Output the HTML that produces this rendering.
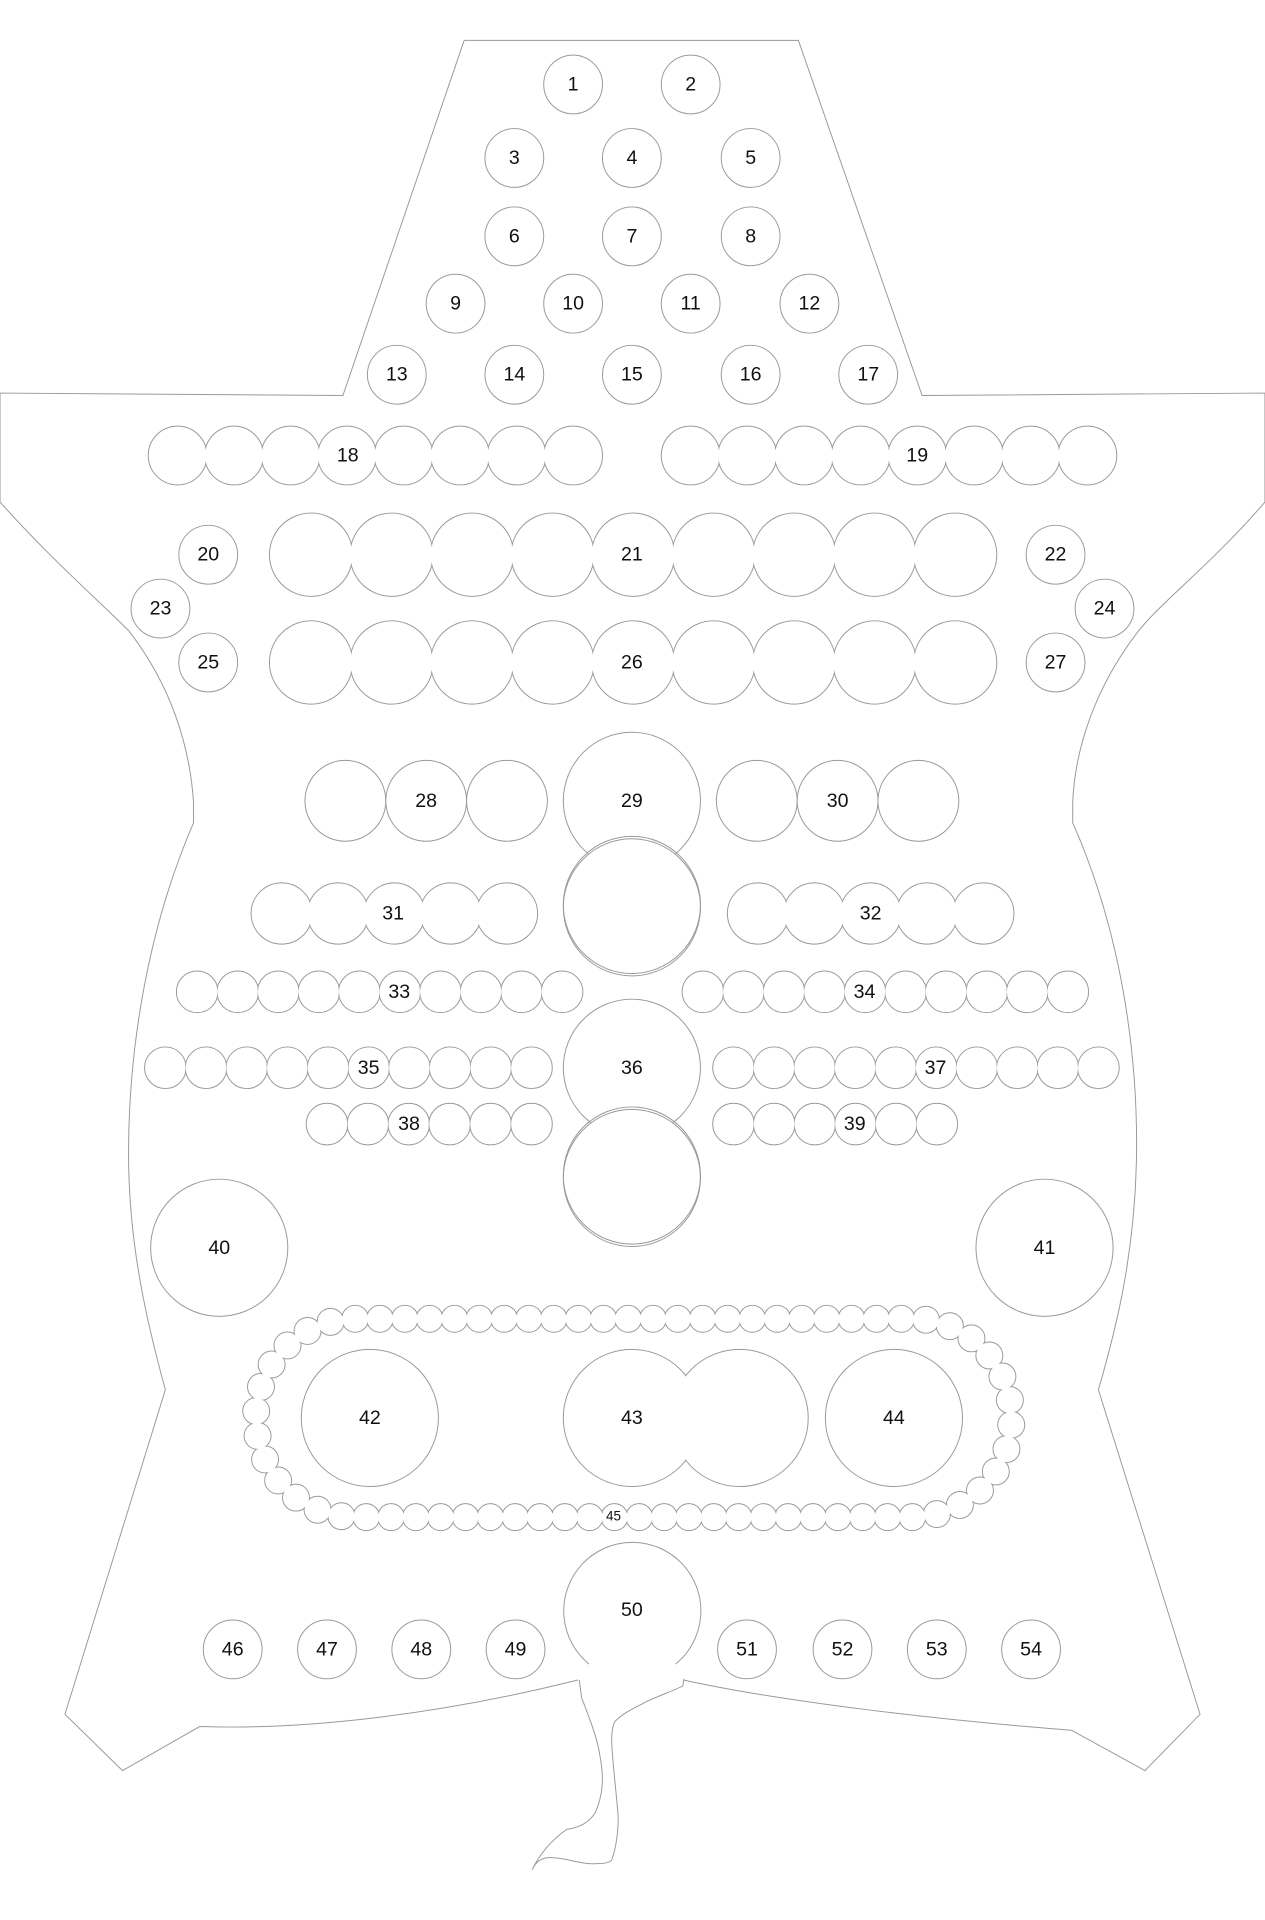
<!DOCTYPE html>
<html><head><meta charset="utf-8"><style>
html,body{margin:0;padding:0;background:#fff;}
svg{display:block}
text{font-family:"Liberation Sans",sans-serif;font-size:16px;fill:#111;text-anchor:middle;dominant-baseline:central}
</style></head><body>
<svg id="s" width="1265" height="1920" viewBox="0 0 1033 1568" xmlns="http://www.w3.org/2000/svg">
<g fill="none" stroke="#999" stroke-width="0.8">
<path d="M379,33 L652,33 L753,323 L1033,321 L1033,410 C990,460 950,490 930,515 C895,560 878,610 876,655 L876,672 C915,760 930,860 928,950 C926,1030 910,1090 897,1135 L980,1400 L935,1446 L875,1413 C770,1405 640,1390 558,1372"/>
<path d="M472,1372 C360,1400 250,1413 163,1410 L100,1446 L53,1400 L135,1135 C120,1080 106,1020 105,950 C104,860 120,760 158,672 L158,655 C155,610 140,560 105,515 C80,490 40,455 0,410 L0,321 L280,323 L379,33"/>
<path d="M473,1372 L475,1386.6 C482,1405 488,1420 490,1434.5 C493,1450 493,1465 486,1480.5 C480,1490 470,1493 462.7,1494 C450,1503 440,1515 434.6,1527 C437,1521 442,1517 449,1517 C462,1517 475,1523 487,1522 C494,1522 498,1521 499.5,1519 C503,1510 505,1495 504.8,1483.5 C503,1460 499,1430 499.5,1418 C500,1412 501,1408 502,1406 C510,1398 520,1394 528,1389.6 C540,1384 552,1380 557.5,1376.8 L558.6,1371"/>
<path d="M481,1359 A56,56 0 1 1 551.7,1359"/>
</g>
<g id="c" fill="#fff" stroke="#999" stroke-width="0.8"></g>
<g id="t">
<text x="468" y="69">1</text><text x="564" y="69">2</text>
<text x="420" y="129">3</text><text x="516" y="129">4</text><text x="613" y="129">5</text>
<text x="420" y="193">6</text><text x="516" y="193">7</text><text x="613" y="193">8</text>
<text x="372" y="248">9</text><text x="468" y="248">10</text><text x="564" y="248">11</text><text x="661" y="248">12</text>
<text x="324" y="306">13</text><text x="420" y="306">14</text><text x="516" y="306">15</text><text x="613" y="306">16</text><text x="709" y="306">17</text>
<text x="284" y="372">18</text><text x="749" y="372">19</text>
<text x="170" y="453">20</text><text x="516" y="453">21</text><text x="862" y="453">22</text>
<text x="131" y="497">23</text><text x="902" y="497">24</text>
<text x="170" y="541">25</text><text x="516" y="541">26</text><text x="862" y="541">27</text>
<text x="348" y="654">28</text><text x="516" y="654">29</text><text x="684" y="654">30</text>
<text x="321" y="746">31</text><text x="711" y="746">32</text>
<text x="326" y="810">33</text><text x="706" y="810">34</text>
<text x="301" y="872">35</text><text x="516" y="872">36</text><text x="764" y="872">37</text>
<text x="334" y="918">38</text><text x="698" y="918">39</text>
<text x="179" y="1019">40</text><text x="853" y="1019">41</text>
<text x="302" y="1158">42</text><text x="516" y="1158">43</text><text x="730" y="1158">44</text>
<text x="501" y="1238" style="font-size:11px">45</text>
<text x="190" y="1347">46</text><text x="267" y="1347">47</text><text x="344" y="1347">48</text><text x="421" y="1347">49</text>
<text x="516" y="1315">50</text>
<text x="610" y="1347">51</text><text x="688" y="1347">52</text><text x="765" y="1347">53</text><text x="842" y="1347">54</text>
</g>
</svg>
<script>
var g=document.getElementById('c'),NS='http://www.w3.org/2000/svg';
function C(x,y,r,fill,stroke){var e=document.createElementNS(NS,'circle');e.setAttribute('cx',x);e.setAttribute('cy',y);e.setAttribute('r',r);
if(stroke===false)e.setAttribute('stroke','none');if(fill===false)e.setAttribute('fill','none');g.appendChild(e);}
function grp(pts,r){pts.forEach(p=>C(p[0],p[1],r));pts.forEach(p=>C(p[0],p[1],r-0.6,true,false));}
function row(x0,x1,n,y,r){var a=[];for(var i=0;i<n;i++)a.push([x0+(x1-x0)*i/(n-1),y]);grp(a,r);}
[[468,69],[564,69],[420,129],[516,129],[613,129],[420,193],[516,193],[613,193],[372,248],[468,248],[564,248],[661,248],[324,306],[420,306],[516,306],[613,306],[709,306],
[170,453],[862,453],[131,497],[902,497],[170,541],[862,541],
[190,1347],[267,1347],[344,1347],[421,1347],[610,1347],[688,1347],[765,1347],[842,1347]].forEach(p=>C(p[0],p[1],24));
row(145,468,8,372,24);row(564,888,8,372,24);
row(254,780,9,453,34);row(254,780,9,541,34);
row(282,414,3,654,33);row(618,750,3,654,33);
row(230,414,5,746,25);row(619,803,5,746,25);
row(161,459,10,810,17);row(574,872,10,810,17);
row(135,434,10,872,17);row(599,897,10,872,17);
row(267,434,6,918,17);row(599,765,6,918,17);
C(516,654,56);C(516,741,56);C(516,739,56,false);
C(516,872,56);C(516,962,56);C(516,960,56,false);
C(179,1019,56);C(853,1019,56);C(302,1158,56);C(730,1158,56);
grp([[516,1158],[604,1158]],56);
var pts=[],cxL=290,cxR=745,cy=1158,R=81,sp=20.3,L=cxR-cxL,per=2*L+2*Math.PI*R,n=Math.round(per/sp);
for(var i=0;i<n;i++){var s=i*per/n,x,y;
 if(s<L){x=cxL+s;y=cy-R;}
 else if(s<L+Math.PI*R){var a=(s-L)/R-Math.PI/2;x=cxR+R*Math.cos(a);y=cy+R*Math.sin(a);}
 else if(s<2*L+Math.PI*R){x=cxR-(s-L-Math.PI*R);y=cy+R;}
 else{var a=(s-2*L-Math.PI*R)/R+Math.PI/2;x=cxL+R*Math.cos(a);y=cy+R*Math.sin(a);}
 pts.push([x,y]);}
grp(pts,11);
</script>
</body></html>
